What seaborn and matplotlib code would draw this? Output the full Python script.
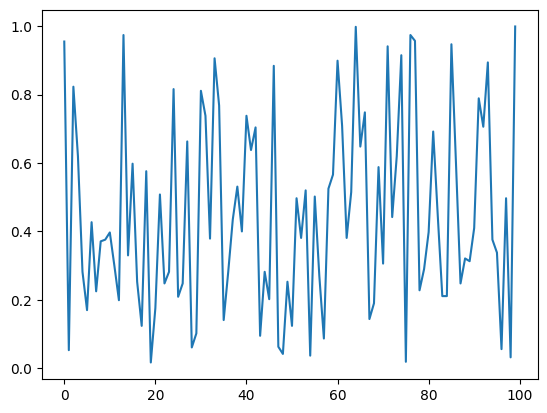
import numpy as np
import pandas as pd
import matplotlib
matplotlib.use('Agg')
import matplotlib.pyplot as plt
import seaborn as sns

# values, one per index 0..99
values = [
    0.955, 0.053, 0.823, 0.620, 0.282, 0.170, 0.427, 0.225, 0.371, 0.376,
    0.397, 0.300, 0.199, 0.974, 0.330, 0.598, 0.253, 0.124, 0.576, 0.017,
    0.176, 0.508, 0.248, 0.282, 0.816, 0.209, 0.248, 0.663, 0.061, 0.102,
    0.811, 0.738, 0.379, 0.906, 0.768, 0.141, 0.282, 0.435, 0.531, 0.400,
    0.738, 0.638, 0.704, 0.095, 0.282, 0.202, 0.884, 0.063, 0.042, 0.253,
    0.124, 0.497, 0.381, 0.520, 0.037, 0.502, 0.270, 0.087, 0.525, 0.566,
    0.899, 0.709, 0.381, 0.515, 0.998, 0.648, 0.748, 0.144, 0.190, 0.588,
    0.306, 0.941, 0.442, 0.620, 0.915, 0.019, 0.974, 0.957, 0.228, 0.290,
    0.398, 0.692, 0.447, 0.211, 0.211, 0.947, 0.600, 0.248, 0.321, 0.313,
    0.410, 0.789, 0.706, 0.894, 0.376, 0.338, 0.056, 0.497, 0.032, 0.999,
]
index = list(range(len(values)))

df = pd.DataFrame({'x': index, 'y': values})

fig, ax = plt.subplots(figsize=(6.4, 4.8), dpi=100)
sns.lineplot(data=df, x='x', y='y', ax=ax, color='#1f77b4', linewidth=1.5)
ax.set_xlabel('')
ax.set_ylabel('')
plt.savefig('out.png', dpi=100, bbox_inches='tight')
plt.close()
